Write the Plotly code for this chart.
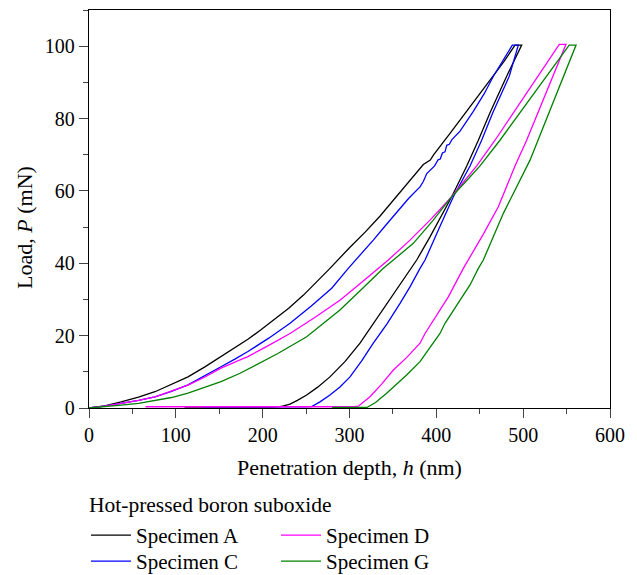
import plotly.graph_objects as go

# Specimen A (black): loading, hold, unloading, baseline
h_A = [0, 18, 37, 57, 76, 95, 114, 133, 152, 168, 183, 198, 212, 230, 247, 262, 277.5, 300, 318, 335, 352, 370, 385, 393,
       397, 416, 431, 446.5, 466, 478, 490.6, 498.3,
       481, 461.8, 448.4, 435, 417.7, 405, 392.7, 377.4, 360, 342.8, 327, 312.1, 295, 277.5, 263, 250.7, 240, 231.5,
       224, 220, 210, 110]
P_A = [0, 0.6, 1.7, 3.0, 4.5, 6.5, 8.6, 11.3, 14.2, 16.5, 19, 21.6, 24.3, 27.6, 31.2, 34.8, 38.6, 44.3, 48.6, 53, 57.8,
       63, 67.3, 68.5, 70, 76, 80.8, 85.7, 91.7, 95.8, 100.3, 100.3,
       91.7, 81.6, 74, 66.9, 58.4, 52.6, 47.3, 40.9, 34.7, 28.9, 23.3, 17.9, 12.9, 8.6, 5.7, 3.6, 2.1, 1.1,
       0.6, 0.4, 0.25, 0.25]

# Specimen C (blue)
h_C = [0, 18, 37, 57, 76, 95, 114, 133, 152, 168, 183, 207, 231.5, 256, 279.5, 298.6, 313, 327.4, 341, 354.4, 368, 381.2,
       385, 389, 398, 402, 404.5, 407, 410, 412, 415, 418, 427.3, 442.6, 455, 465.7, 477, 487.5, 494.4,
       484, 465, 452.2, 438.8, 419.6, 404, 387, 381.2, 370, 358.2, 343, 327.4, 314, 300.6, 289, 277.5, 266, 256.5, 248, 130]
P_C = [0, 0.5, 1.3, 2.1, 3.1, 4.6, 6.4, 8.8, 11.4, 13.5, 15.6, 19.3, 23.4, 28.2, 33.1, 38.6, 42.4, 46.4, 50.3, 54.2, 57.9,
       61.1, 62.6, 64.8, 66.9, 68.6, 68.8, 70.5, 70.8, 72.6, 72.9, 74.2, 76.5, 82, 86.8, 91.7, 96, 100.3, 100.3,
       91.7, 81.6, 74, 66.9, 58.4, 50.1, 40.9, 38.6, 33.6, 28.9, 23.2, 17.9, 13.0, 8.6, 5.8, 3.6, 1.7, 0.4, 0.3, 0.3]

# Specimen D (magenta)
h_D = [0, 18, 37, 57, 76, 95, 114, 133, 152, 174, 183, 207, 231.5, 260, 289, 311, 333.2, 344.7, 369.7, 393, 415.8,
       446.5, 467.6, 496.4, 519, 541.6, 549.3,
       527, 504, 490.6, 471.4, 454, 436.9, 431.1, 413.8, 404.2, 387, 381.2, 366, 350.5, 337, 323.6, 315, 310.2, 305, 65]
P_D = [0, 0.5, 1.3, 2.1, 3.1, 4.6, 6.3, 8.5, 11, 13.3, 14.2, 17.3, 20.6, 25, 29.8, 34.1, 38.6, 40.9, 46.4, 52, 57.9,
       66.9, 74, 84.3, 92.4, 100.5, 100.5,
       87.3, 74, 66.9, 55.6, 48, 40.9, 38.6, 30.7, 27.1, 20.6, 17.9, 14.0, 10.5, 6.6, 3.1, 1.3, 0.5, 0.35, 0.35]

# Specimen G (green)
h_G = [0, 18, 37, 57, 76, 95, 114, 133, 152, 174, 183, 217, 250.7, 270, 289, 314, 339, 350.5, 373.5, 396, 417.7, 434,
       450.3, 473.3, 513, 553, 560.9,
       534, 507.9, 477.2, 454.1, 448.4, 438.8, 424, 410, 404.2, 381.2, 365.8, 354, 342.8, 330, 320, 280]
P_G = [0, 0.3, 0.8, 1.3, 2.0, 2.9, 4.1, 5.6, 7.3, 9.6, 10.7, 15.0, 19.7, 23.3, 27.1, 32.8, 38.6, 40.9, 45.5, 51.8, 58.4,
       62.6, 66.9, 74, 87, 100.3, 100.3,
       84.4, 68.5, 53.8, 40.9, 38.6, 34, 28.6, 23.4, 20.6, 12.8, 9.1, 6.5, 4.1, 1.5, 0.15, 0.15]

names = ["Specimen A", "Specimen C", "Specimen D", "Specimen G"]
colors = ["#000000", "#0000ff", "#ff00ff", "#008000"]
x_ticks = [0, 100, 200, 300, 400, 500, 600]
y_ticks = [0, 20, 40, 60, 80, 100]
legend_title = "Hot-pressed boron suboxide"

FONT = "'Liberation Serif', 'Times New Roman', 'DejaVu Serif', serif"
W, H = 637, 575
legend_ids = ["legend", "legend2", "legend3", "legend4"]
# legend slot positions (left px, top px): A, C in column 1; D, G in column 2
legend_pos = [(86, 515), (86, 541), (276, 515), (276, 541)]

fig = go.Figure()
for h, p, n, c, lid in zip([h_A, h_C, h_D, h_G], [P_A, P_C, P_D, P_G], names, colors, legend_ids):
    fig.add_trace(go.Scatter(x=h, y=p, mode="lines", name=n, legend=lid,
                             line=dict(color=c, width=1.3)))

legend_layout = {}
for lid, (lx, ly) in zip(legend_ids, legend_pos):
    legend_layout[lid] = dict(orientation="h", xref="container", yref="container",
                              x=lx / W, y=1 - ly / H, xanchor="left", yanchor="top",
                              itemwidth=40, font=dict(family=FONT, size=21, color="black"),
                              bgcolor="rgba(0,0,0,0)")

fig.update_layout(
    width=W, height=H,
    margin=dict(l=89, r=27, t=10, b=167),
    paper_bgcolor="white", plot_bgcolor="white",
    font=dict(family=FONT, size=20, color="black"),
    showlegend=True,
    xaxis=dict(range=[0, 600], tickvals=x_ticks, ticks="outside", ticklen=9, tickwidth=1.2,
               minor=dict(dtick=50, ticks="outside", ticklen=5, tickwidth=1.2, showgrid=False),
               showline=True, mirror=True, linecolor="black", linewidth=1.3, layer="below traces",
               showgrid=False, zeroline=False, tickfont=dict(family=FONT, size=20),
               title=dict(text="Penetration depth, <i>h</i> (nm)", font=dict(family=FONT, size=22), standoff=14)),
    yaxis=dict(range=[0, 110], tickvals=y_ticks, ticks="outside", ticklen=9, tickwidth=1.2,
               minor=dict(dtick=10, ticks="outside", ticklen=5, tickwidth=1.2, showgrid=False),
               showline=True, mirror=True, linecolor="black", linewidth=1.3, layer="below traces",
               showgrid=False, zeroline=False, tickfont=dict(family=FONT, size=20)),
    annotations=[
        dict(text="Load, <i>P</i> (mN)", textangle=-90, xref="paper", yref="y",
             x=-0.125, y=50, xanchor="center", yanchor="middle", showarrow=False,
             font=dict(family=FONT, size=22)),
        dict(text=legend_title, xref="paper", yref="paper", x=-0.003, y=-(505 - 408) / 398,
             xanchor="left", yanchor="middle", showarrow=False, font=dict(family=FONT, size=21.5)),
    ],
    **legend_layout,
)

fig.write_html("out.html")
